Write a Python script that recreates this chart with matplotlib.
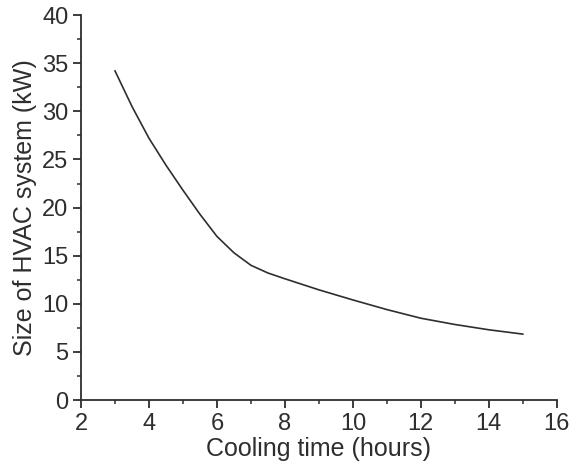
import matplotlib
matplotlib.use("Agg")
import matplotlib.pyplot as plt
from matplotlib.ticker import MultipleLocator

cooling_time = [3, 3.5, 4, 4.5, 5, 5.5, 6, 6.5, 7, 7.5, 8, 9, 10, 11, 12, 13, 14, 15]
hvac_size = [34.2, 30.5, 27.2, 24.4, 21.8, 19.3, 17.0, 15.3, 14.0, 13.2, 12.6, 11.45, 10.4, 9.4, 8.5, 7.85, 7.3, 6.85]

plt.rcParams['font.family'] = ['Liberation Sans', 'DejaVu Sans']
fig = plt.figure(figsize=(5.83, 4.72), dpi=100)
ax = fig.add_axes([0.139, 0.1525, 0.816, 0.8155])
ink = '#2e2e2e'
ax.plot(cooling_time, hvac_size, color=ink, lw=1.2)
ax.set_xlim(2, 16)
ax.set_ylim(0, 40)
ax.xaxis.set_major_locator(MultipleLocator(2))
ax.xaxis.set_minor_locator(MultipleLocator(1))
ax.yaxis.set_major_locator(MultipleLocator(5))
ax.yaxis.set_minor_locator(MultipleLocator(2.5))
for s in ['top', 'right']:
    ax.spines[s].set_visible(False)
for s in ['left', 'bottom']:
    ax.spines[s].set_linewidth(1.3)
    ax.spines[s].set_color(ink)
ax.tick_params(which='major', direction='out', length=6, width=1.3, colors=ink, labelsize=17, labelcolor=ink, pad=3)
ax.tick_params(which='minor', direction='out', length=3, width=1.1, colors=ink)
ax.set_xlabel('Cooling time (hours)', fontsize=18, color=ink, labelpad=2)
ax.set_ylabel('Size of HVAC system (kW)', fontsize=18, color=ink, labelpad=4)
fig.savefig('out.png', dpi=100)
